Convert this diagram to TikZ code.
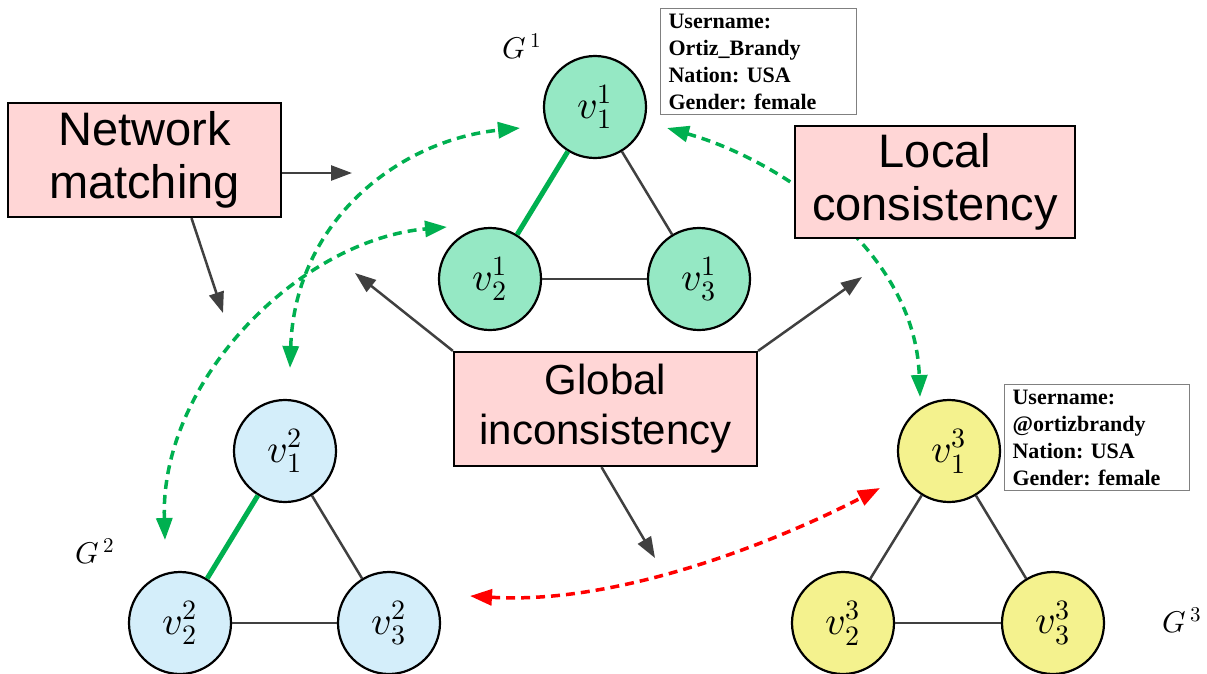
\documentclass[tikz,border=0pt]{standalone}
\usepackage{fontspec}
\usepackage{unicode-math}
\setmainfont{Liberation Serif}
\setmathfont{Latin Modern Math}
\newfontfamily\arialfont{Liberation Sans}
\usepackage{tikz}
\usetikzlibrary{arrows.meta,positioning}
\definecolor{nodegreen}{RGB}{149,232,196}
\definecolor{nodeblue}{RGB}{212,238,250}
\definecolor{nodeyellow}{RGB}{244,242,142}
\definecolor{boxpink}{RGB}{255,214,214}
\definecolor{linkgray}{RGB}{64,64,64}
\definecolor{matchgreen}{RGB}{0,176,80}
\definecolor{conflictred}{RGB}{255,0,0}
\frenchspacing

\begin{document}
\begin{tikzpicture}[x=1pt, y=-1pt,
  user/.style={circle, draw, line width=2.2pt, minimum size=102pt, inner sep=0pt, font=\fontsize{40}{48}\selectfont},
  concept/.style={draw, line width=2.2pt, fill=boxpink, align=center, inner sep=0pt, font=\arialfont\fontsize{47}{53}\selectfont},
  profile/.style={draw=gray, line width=1.2pt, fill=white, align=left, anchor=north west, inner xsep=8pt, inner ysep=5pt, font=\bfseries\fontsize{22}{27}\selectfont},
  graphname/.style={font=\fontsize{30}{36}\selectfont},
  edge/.style={linkgray, line width=2.5pt},
  match/.style={matchgreen, line width=5pt},
  pointer/.style={linkgray, line width=2.5pt, -{Triangle[length=21pt,width=15pt]}},
  anchorlink/.style={matchgreen, line width=3.5pt, dash pattern=on 9pt off 6pt, {Triangle[length=22pt,width=16pt]}-{Triangle[length=22pt,width=16pt]}},
  conflict/.style={anchorlink, conflictred},
]
\useasboundingbox (0,0) rectangle (1207,673);

\node[user, fill=nodegreen] (v11) at (595,107) {$v_1^1$};
\node[user, fill=nodegreen] (v21) at (490,279) {$v_2^1$};
\node[user, fill=nodegreen] (v31) at (699,279) {$v_3^1$};
\node[user, fill=nodeblue] (v12) at (285,451) {$v_1^2$};
\node[user, fill=nodeblue] (v22) at (180,623) {$v_2^2$};
\node[user, fill=nodeblue] (v32) at (389,623) {$v_3^2$};
\node[user, fill=nodeyellow] (v13) at (949,451) {$v_1^3$};
\node[user, fill=nodeyellow] (v23) at (843,623) {$v_2^3$};
\node[user, fill=nodeyellow] (v33) at (1053,623) {$v_3^3$};

\node[graphname] (g1) at (522,46) {$G^{\,1}$};
\node[graphname] (g2) at (95,551) {$G^{\,2}$};
\node[graphname] (g3) at (1182,620) {$G^{\,3}$};

\draw[match] (v11) -- (v21);
\draw[edge] (v11) -- (v31);
\draw[edge] (v21) -- (v31);
\draw[match] (v12) -- (v22);
\draw[edge] (v12) -- (v32);
\draw[edge] (v22) -- (v32);
\draw[edge] (v13) -- (v23);
\draw[edge] (v13) -- (v33);
\draw[edge] (v23) -- (v33);

\coordinate (a1) at (520,128);
\coordinate (a2) at (290,368);
\coordinate (b1) at (447,227);
\coordinate (b2) at (165,540);
\coordinate (c1) at (667,128);
\coordinate (c2) at (920,397);
\coordinate (r1) at (470,596);
\coordinate (r2) at (880,488);
\draw[anchorlink] (a2) .. controls (295,220) and (400,140) .. (a1);
\draw[anchorlink] (b2) .. controls (160,380) and (300,240) .. (b1);
\draw[anchorlink] (c1) .. controls (780,160) and (915,250) .. (c2);
\draw[conflict] (r1) .. controls (620,605) and (780,540) .. (r2);

\node[profile, text width=180pt] (p1) at (660,8) {Username:\\Ortiz\_Brandy\\Nation: USA\\Gender: female};
\node[profile, text width=169pt] (p3) at (1004,384) {Username:\\@ortizbrandy\\Nation: USA\\Gender: female};

\node[concept, minimum width=273pt, minimum height=114pt] (nm) at (144.5,160) {Network\\matching};
\node[concept, minimum width=280pt, minimum height=112pt] (lc) at (935,182) {Local\\consistency};
\node[concept, minimum width=303pt, minimum height=114pt, font=\arialfont\fontsize{42}{50}\selectfont] (gi) at (605.5,409) {Global\\inconsistency};

\coordinate (nmR) at (352,173);
\coordinate (nmD) at (223,313);
\coordinate (giL) at (355,273);
\coordinate (giR) at (862,277);
\coordinate (giD) at (655,558);
\draw[pointer] ([yshift=-13pt]nm.east) -- (nmR);
\draw[pointer] ([xshift=47pt]nm.south) -- (nmD);
\draw[pointer] (gi.north west) -- (giL);
\draw[pointer] (gi.north east) -- (giR);
\draw[pointer] ([xshift=-4pt]gi.south) -- (giD);
\end{tikzpicture}
\end{document}
